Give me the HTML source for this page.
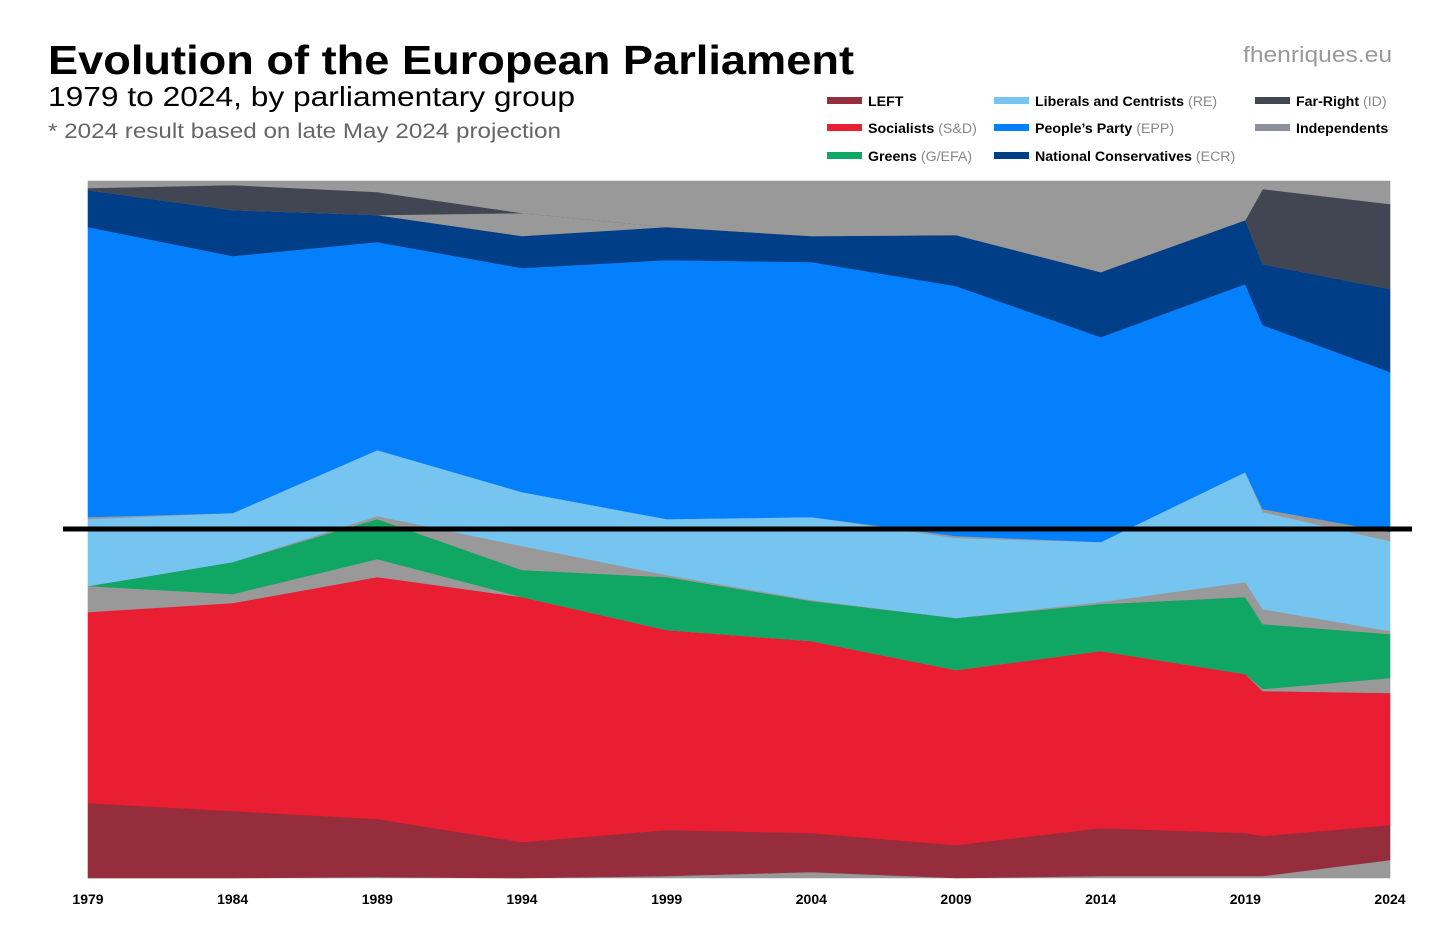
<!DOCTYPE html>
<html><head><meta charset="utf-8"><style>
body{margin:0;background:#fff;width:1456px;height:944px;overflow:hidden;font-family:"Liberation Sans",sans-serif}
</style></head><body>
<svg width="1456" height="944" xmlns="http://www.w3.org/2000/svg">
<text x="48" y="74" font-size="41" font-weight="bold" fill="#000" textLength="806" lengthAdjust="spacingAndGlyphs">Evolution of the European Parliament</text>
<text x="48" y="106" font-size="28" fill="#000" textLength="527" lengthAdjust="spacingAndGlyphs">1979 to 2024, by parliamentary group</text>
<text x="48" y="138" font-size="21" fill="#666" textLength="513" lengthAdjust="spacingAndGlyphs">* 2024 result based on late May 2024 projection</text>
<text x="1392" y="62" font-size="22" fill="#999" text-anchor="end" textLength="149" lengthAdjust="spacingAndGlyphs">fhenriques.eu</text>
<g id="legend"></g>
<g id="areas"></g>
<g id="xaxis"></g>
<line x1="63" y1="529" x2="1412" y2="529" stroke="#000" stroke-width="5"/>
</svg>
<script>
const years = [1979,1984,1989,1994,1999,2004,2009,2014,2019,2019.6,2024];
const tickYears = [1979,1984,1989,1994,1999,2004,2009,2014,2019,2024];
const othBottom = [0,0,1,0,2,6,0,2,2,2,18];
const left = [75,67,58,36,46,39,33,48,43,40,35];
const sd = [191,208,242,245,200,192,175,177,159,145,132];
const oth1 = [26,9,18,0,0,0,0,0,0,2,15];
const greens = [0,32,40,27,53,40,52,47,77,65,44];
const oth2 = [0,0,3,24,2,1,0,2,15,15,3];
const re = [67,49,66,54,56,83,80,60,110,97,90];
const oth3 = [2,0,0,0,0,0,2,0,0,3,9];
const epp = [290,257,208,224,259,255,250,205,188,184,160];
const ecr = [37,46,27,32,33,26,51,65,64,61,83];
const oth4 = [0,0,0,23,0,0,0,0,0,0,0];
const id = [2,25,23,0,0,0,0,0,0,75,85];
const othTop = [7,4,11,32,46,55,54,91,39,8,23];

const layers = [
 ['other-bottom',othBottom,'#999999'],['left',left,'#952d3c'],['sd',sd,'#e91e32'],
 ['other-1',oth1,'#999999'],['greens',greens,'#10a664'],['other-2',oth2,'#999999'],
 ['re',re,'#76c4f0'],['other-3',oth3,'#999999'],['epp',epp,'#0580fd'],
 ['ecr',ecr,'#003f87'],['other-4',oth4,'#999999'],['id',id,'#414652'],['other-top',othTop,'#999999']];
const X0=88,X1=1390,YT=181,YB=878;
const xs = y => X0+(y-1979)/(2024-1979)*(X1-X0);
const ys = f => YB-f*(YB-YT);
const NS='http://www.w3.org/2000/svg';
const totals = years.map((_,i)=>layers.reduce((s,l)=>s+l[1][i],0));
const cum = years.map(()=>0);
const g = document.getElementById('areas');
layers.forEach(([name,vals,col])=>{
  const lo = cum.slice();
  vals.forEach((v,i)=>cum[i]+=v);
  let pts=[];
  years.forEach((y,i)=>pts.push(xs(y)+','+ys(cum[i]/totals[i])));
  for(let i=years.length-1;i>=0;i--) pts.push(xs(years[i])+','+ys(lo[i]/totals[i]));
  const p=document.createElementNS(NS,'polygon');
  p.setAttribute('points',pts.join(' '));
  p.setAttribute('fill',col);
  p.setAttribute('stroke',col);
  p.setAttribute('stroke-width','0.6');
  
  
  g.appendChild(p);
});
const xa=document.getElementById('xaxis');
tickYears.forEach(y=>{
  const t=document.createElementNS(NS,'text');
  t.setAttribute('x',xs(y));t.setAttribute('y',904);
  t.setAttribute('text-anchor','middle');t.setAttribute('font-size','14');
  t.setAttribute('font-weight','bold');
  t.textContent=y;
  
  
  xa.appendChild(t);
});
const legendItems=[
 ['LEFT','', '#952d3c',827,101],['Socialists','(S&D)','#e91e32',827,128],['Greens','(G/EFA)','#10a664',827,156],
 ['Liberals and Centrists','(RE)','#76c4f0',994,101],['People\u2019s Party','(EPP)','#0580fd',994,128],['National Conservatives','(ECR)','#003f87',994,156],
 ['Far-Right','(ID)','#414652',1255,101],['Independents','','#8a909c',1255,128]];
const lg=document.getElementById('legend');
legendItems.forEach(([a,b,c,x,y])=>{
  const r=document.createElementNS(NS,'rect');
  r.setAttribute('x',x);r.setAttribute('y',y-4);r.setAttribute('width',35);r.setAttribute('height',7);r.setAttribute('fill',c);
  
  
  lg.appendChild(r);
  const t=document.createElementNS(NS,'text');
  t.setAttribute('x',x+41);t.setAttribute('y',y+5);t.setAttribute('font-size','14.2');
  t.innerHTML='<tspan font-weight="bold">'+a.replace('&','&amp;')+'</tspan>'+(b?' <tspan fill="#888">'+b.replace('&','&amp;')+'</tspan>':'');
  
  
  lg.appendChild(t);
});
</script>
</body></html>
